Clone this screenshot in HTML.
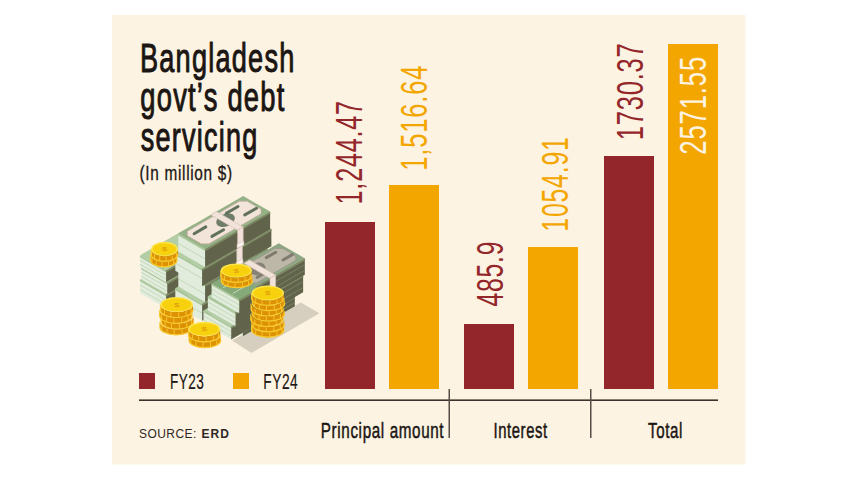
<!DOCTYPE html>
<html><head><meta charset="utf-8">
<style>
html,body{margin:0;padding:0;background:#fff;width:857px;height:482px;overflow:hidden}
svg{display:block}
text{font-family:"Liberation Sans",sans-serif}
</style></head>
<body>
<svg width="857" height="482" viewBox="0 0 857 482">
<rect x="112" y="15" width="633.5" height="449.5" fill="#FDF3E2"/>
<g>
<rect x="325" y="222" width="50" height="167" fill="#93262A"/>
<rect x="389" y="185" width="50" height="204" fill="#F4A600"/>
<rect x="464" y="324" width="50" height="65" fill="#93262A"/>
<rect x="528" y="247" width="50" height="142" fill="#F4A600"/>
<rect x="604" y="156" width="50" height="233" fill="#93262A"/>
<rect x="668" y="44" width="50" height="345" fill="#F4A600"/>
</g>
<rect x="139" y="399.4" width="579" height="1.6" fill="#3b322b"/>
<rect x="448.5" y="389" width="1.5" height="49" fill="#564d46"/>
<rect x="590" y="389" width="1.5" height="49" fill="#564d46"/>
<rect x="139" y="373" width="16" height="16" fill="#93262A"/>
<rect x="233" y="373" width="16" height="16" fill="#F4A600"/>
<g fill="#2e2825" font-size="12">
<text x="139" y="437.5" letter-spacing="0.45">SOURCE:</text>
<text x="201.5" y="437.5" font-weight="bold" letter-spacing="1.1">ERD</text>
</g>
<g id="illus">
<polygon points="232.0,340.5 251.5,352.9 319.4,313.2 300.8,302.6" fill="#d6cfbf" />
<polygon points="140.1,279.3 166.1,294.3 166.1,308.3 140.1,293.3" fill="#e2ecdd" />
<line x1="140.1" y1="285.0" x2="166.1" y2="300.0" stroke="#bcd4b0" stroke-width="0.8"/>
<line x1="140.1" y1="289.6" x2="166.1" y2="304.6" stroke="#bcd4b0" stroke-width="0.8"/>
<line x1="140.1" y1="280.3" x2="166.1" y2="295.3" stroke="#a7c497" stroke-width="1.6"/>
<polygon points="166.1,294.3 219.8,263.3 219.8,277.3 166.1,308.3" fill="#61644b" />
<line x1="166.1" y1="295.5" x2="219.8" y2="264.5" stroke="#7f8c66" stroke-width="1.8"/>
<polygon points="140.1,279.3 193.8,248.3 219.8,263.3 166.1,294.3" fill="#b3cda5" />
<polygon points="141.3,267.3 167.3,282.3 167.3,294.3 141.3,279.3" fill="#e2ecdd" />
<line x1="141.3" y1="272.3" x2="167.3" y2="287.3" stroke="#bcd4b0" stroke-width="0.8"/>
<line x1="141.3" y1="276.3" x2="167.3" y2="291.3" stroke="#bcd4b0" stroke-width="0.8"/>
<line x1="141.3" y1="268.3" x2="167.3" y2="283.3" stroke="#a7c497" stroke-width="1.6"/>
<polygon points="167.3,282.3 221.0,251.3 221.0,263.3 167.3,294.3" fill="#61644b" />
<line x1="167.3" y1="283.5" x2="221.0" y2="252.5" stroke="#7f8c66" stroke-width="1.8"/>
<polygon points="141.3,267.3 195.0,236.3 221.0,251.3 167.3,282.3" fill="#b3cda5" />
<polygon points="140.1,255.3 166.1,270.3 166.1,282.3 140.1,267.3" fill="#e2ecdd" />
<line x1="140.1" y1="260.3" x2="166.1" y2="275.3" stroke="#bcd4b0" stroke-width="0.8"/>
<line x1="140.1" y1="264.3" x2="166.1" y2="279.3" stroke="#bcd4b0" stroke-width="0.8"/>
<line x1="140.1" y1="256.3" x2="166.1" y2="271.3" stroke="#a7c497" stroke-width="1.6"/>
<polygon points="166.1,270.3 219.8,239.3 219.8,251.3 166.1,282.3" fill="#61644b" />
<line x1="166.1" y1="271.5" x2="219.8" y2="240.5" stroke="#7f8c66" stroke-width="1.8"/>
<polygon points="140.1,255.3 193.8,224.3 219.8,239.3 166.1,270.3" fill="#b3cda5" />
<polygon points="175.3,288.2 202.1,303.8 202.1,320.8 175.3,305.2" fill="#e2ecdd" />
<line x1="175.3" y1="297.8" x2="202.1" y2="313.2" stroke="#bcd4b0" stroke-width="0.8"/>
<line x1="175.3" y1="289.2" x2="202.1" y2="304.8" stroke="#a7c497" stroke-width="1.6"/>
<polygon points="202.1,303.8 268.0,265.8 268.0,282.8 202.1,320.8" fill="#61644b" />
<line x1="202.1" y1="304.9" x2="268.0" y2="266.9" stroke="#7f8c66" stroke-width="1.8"/>
<polygon points="175.3,288.2 241.1,250.2 268.0,265.8 202.1,303.8" fill="#b3cda5" />
<polygon points="178.3,269.0 205.1,284.5 205.1,302.0 178.3,286.5" fill="#e2ecdd" />
<line x1="178.3" y1="278.8" x2="205.1" y2="294.2" stroke="#bcd4b0" stroke-width="0.8"/>
<line x1="178.3" y1="270.0" x2="205.1" y2="285.5" stroke="#a7c497" stroke-width="1.6"/>
<polygon points="205.1,284.5 267.5,248.5 267.5,266.0 205.1,302.0" fill="#61644b" />
<line x1="205.1" y1="285.7" x2="267.5" y2="249.7" stroke="#7f8c66" stroke-width="1.8"/>
<polygon points="178.3,269.0 240.7,233.0 267.5,248.5 205.1,284.5" fill="#b3cda5" />
<polygon points="210.7,250.3 216.4,247.0 243.2,262.5 237.6,265.8" fill="#f1e2da" stroke="#d8c0b5" stroke-width="0.6"/>
<polygon points="237.6,265.8 243.2,262.5 243.2,280.0 237.6,283.3" fill="#f1e2da" stroke="#d8c0b5" stroke-width="0.6"/>
<polygon points="237.1,279.3 243.7,276.0 243.7,280.0 237.1,283.3" fill="#faf4f0" stroke="#d8c0b5" stroke-width="0.6"/>
<polygon points="175.3,253.2 202.1,268.8 202.1,286.2 175.3,270.8" fill="#e2ecdd" />
<line x1="175.3" y1="263.0" x2="202.1" y2="278.5" stroke="#bcd4b0" stroke-width="0.8"/>
<line x1="175.3" y1="254.2" x2="202.1" y2="269.8" stroke="#a7c497" stroke-width="1.6"/>
<polygon points="202.1,268.8 271.4,228.8 271.4,246.2 202.1,286.2" fill="#61644b" />
<line x1="202.1" y1="269.9" x2="271.4" y2="229.9" stroke="#7f8c66" stroke-width="1.8"/>
<polygon points="175.3,253.2 244.6,213.2 271.4,228.8 202.1,268.8" fill="#b3cda5" />
<polygon points="209.9,233.2 215.6,230.0 242.4,245.5 236.8,248.8" fill="#f1e2da" stroke="#d8c0b5" stroke-width="0.6"/>
<polygon points="236.8,248.8 242.4,245.5 242.4,263.0 236.8,266.2" fill="#f1e2da" stroke="#d8c0b5" stroke-width="0.6"/>
<polygon points="236.3,262.2 242.9,259.0 242.9,263.0 236.3,266.2" fill="#faf4f0" stroke="#d8c0b5" stroke-width="0.6"/>
<polygon points="178.3,233.5 205.1,249.0 205.1,267.0 178.3,251.5" fill="#e2ecdd" />
<line x1="178.3" y1="243.5" x2="205.1" y2="259.0" stroke="#bcd4b0" stroke-width="0.8"/>
<line x1="178.3" y1="234.5" x2="205.1" y2="250.0" stroke="#a7c497" stroke-width="1.6"/>
<polygon points="205.1,249.0 270.1,211.5 270.1,229.5 205.1,267.0" fill="#61644b" />
<line x1="205.1" y1="250.2" x2="270.1" y2="212.7" stroke="#7f8c66" stroke-width="1.8"/>
<polygon points="178.3,233.5 243.2,196.0 270.1,211.5 205.1,249.0" fill="#94b286" />
<polygon points="187.4,231.2 239.4,201.2 247.1,201.2 261.0,209.2 261.0,213.8 209.0,243.8 201.2,243.8 187.4,235.8" fill="#f3e4da" stroke="#c9b0a4" stroke-width="0.8"/>
<line x1="194.1" y1="233.7" x2="205.8" y2="226.9" stroke="#61715b" stroke-width="3.0" stroke-linecap="round"/>
<line x1="211.9" y1="236.4" x2="223.6" y2="229.7" stroke="#61715b" stroke-width="3.0" stroke-linecap="round"/>
<line x1="226.3" y1="213.2" x2="238.0" y2="206.5" stroke="#61715b" stroke-width="3.0" stroke-linecap="round"/>
<line x1="244.8" y1="214.9" x2="256.5" y2="208.2" stroke="#61715b" stroke-width="3.0" stroke-linecap="round"/>
<ellipse cx="225.5" cy="220.2" rx="9.8" ry="6.2" transform="rotate(-22 225.5 220.2)" fill="#61715b" opacity="0.9"/>
<polygon points="210.8,214.8 216.4,211.5 243.2,227.0 237.6,230.2" fill="#f1e2da" stroke="#d8c0b5" stroke-width="0.6"/>
<polygon points="237.6,230.2 243.2,227.0 243.2,245.0 237.6,248.2" fill="#f1e2da" stroke="#d8c0b5" stroke-width="0.6"/>
<polygon points="237.1,244.2 243.8,241.0 243.8,245.0 237.1,248.2" fill="#faf4f0" stroke="#d8c0b5" stroke-width="0.6"/>
<polygon points="216.9,307.3 242.8,322.3 242.8,336.3 216.9,321.3" fill="#e2ecdd" />
<line x1="216.9" y1="315.3" x2="242.8" y2="330.3" stroke="#bcd4b0" stroke-width="0.8"/>
<line x1="216.9" y1="308.3" x2="242.8" y2="323.3" stroke="#a7c497" stroke-width="1.6"/>
<polygon points="242.8,322.3 294.8,292.3 294.8,306.3 242.8,336.3" fill="#61644b" />
<line x1="242.8" y1="323.5" x2="294.8" y2="293.5" stroke="#7f8c66" stroke-width="1.8"/>
<line x1="242.8" y1="328.0" x2="294.8" y2="298.0" stroke="#7a8564" stroke-width="0.9"/>
<line x1="242.8" y1="332.6" x2="294.8" y2="302.6" stroke="#7a8564" stroke-width="0.9"/>
<polygon points="216.9,307.3 268.8,277.3 294.8,292.3 242.8,322.3" fill="#b3cda5" />
<polygon points="225.2,289.8 251.1,304.8 251.1,322.3 225.2,307.3" fill="#e2ecdd" />
<line x1="225.2" y1="299.6" x2="251.1" y2="314.6" stroke="#bcd4b0" stroke-width="0.8"/>
<line x1="225.2" y1="290.8" x2="251.1" y2="305.8" stroke="#a7c497" stroke-width="1.6"/>
<polygon points="251.1,304.8 303.1,274.8 303.1,292.3 251.1,322.3" fill="#61644b" />
<line x1="251.1" y1="306.0" x2="303.1" y2="276.0" stroke="#7f8c66" stroke-width="1.8"/>
<line x1="251.1" y1="311.6" x2="303.1" y2="281.6" stroke="#7a8564" stroke-width="0.9"/>
<line x1="251.1" y1="317.5" x2="303.1" y2="287.5" stroke="#7a8564" stroke-width="0.9"/>
<polygon points="225.2,289.8 277.1,259.8 303.1,274.8 251.1,304.8" fill="#b3cda5" />
<polygon points="243.9,279.0 249.5,275.8 275.5,290.8 269.8,294.0" fill="#f1e2da" stroke="#d8c0b5" stroke-width="0.6"/>
<polygon points="269.8,294.0 275.5,290.8 275.5,308.2 269.8,311.5" fill="#f1e2da" stroke="#d8c0b5" stroke-width="0.6"/>
<polygon points="269.3,307.5 276.0,304.2 276.0,308.2 269.3,311.5" fill="#faf4f0" stroke="#d8c0b5" stroke-width="0.6"/>
<polygon points="226.9,273.2 252.8,288.2 252.8,304.8 226.9,289.8" fill="#e2ecdd" />
<line x1="226.9" y1="282.5" x2="252.8" y2="297.5" stroke="#bcd4b0" stroke-width="0.8"/>
<line x1="226.9" y1="274.2" x2="252.8" y2="289.2" stroke="#a7c497" stroke-width="1.6"/>
<polygon points="252.8,288.2 304.8,258.2 304.8,274.8 252.8,304.8" fill="#61644b" />
<line x1="252.8" y1="289.4" x2="304.8" y2="259.4" stroke="#7f8c66" stroke-width="1.8"/>
<line x1="252.8" y1="294.7" x2="304.8" y2="264.7" stroke="#7a8564" stroke-width="0.9"/>
<line x1="252.8" y1="300.3" x2="304.8" y2="270.3" stroke="#7a8564" stroke-width="0.9"/>
<polygon points="226.9,273.2 278.8,243.2 304.8,258.2 252.8,288.2" fill="#8fa785" />
<polygon points="236.0,270.9 274.9,248.4 282.7,248.4 295.7,255.9 295.7,260.4 256.7,282.9 248.9,282.9 236.0,275.4" fill="#bdb7a7" stroke="#9a9588" stroke-width="0.8"/>
<line x1="240.9" y1="274.1" x2="250.2" y2="268.7" stroke="#7f7b6f" stroke-width="3.0" stroke-linecap="round"/>
<line x1="257.0" y1="277.4" x2="266.3" y2="272.0" stroke="#7f7b6f" stroke-width="3.0" stroke-linecap="round"/>
<line x1="266.3" y1="257.6" x2="275.7" y2="252.2" stroke="#7f7b6f" stroke-width="3.0" stroke-linecap="round"/>
<line x1="283.0" y1="260.0" x2="292.3" y2="254.6" stroke="#7f7b6f" stroke-width="3.0" stroke-linecap="round"/>
<ellipse cx="257.8" cy="268.8" rx="7.8" ry="6.0" transform="rotate(-22 257.8 268.8)" fill="#7f7b6f" opacity="0.9"/>
<polygon points="244.0,263.3 249.6,260.1 275.6,275.1 270.0,278.3" fill="#f1e2da" stroke="#d8c0b5" stroke-width="0.6"/>
<polygon points="270.0,278.3 275.6,275.1 275.6,291.7 270.0,294.9" fill="#f1e2da" stroke="#d8c0b5" stroke-width="0.6"/>
<polygon points="269.5,290.9 276.1,287.7 276.1,291.7 269.5,294.9" fill="#faf4f0" stroke="#d8c0b5" stroke-width="0.6"/>
<polygon points="203.5,310.4 231.2,326.4 231.2,339.4 203.5,323.4" fill="#e2ecdd" />
<line x1="203.5" y1="315.7" x2="231.2" y2="331.7" stroke="#bcd4b0" stroke-width="0.8"/>
<line x1="203.5" y1="320.1" x2="231.2" y2="336.1" stroke="#bcd4b0" stroke-width="0.8"/>
<line x1="203.5" y1="311.4" x2="231.2" y2="327.4" stroke="#a7c497" stroke-width="1.6"/>
<polygon points="231.2,326.4 260.7,309.4 260.7,322.4 231.2,339.4" fill="#61644b" />
<line x1="231.2" y1="327.6" x2="260.7" y2="310.6" stroke="#7f8c66" stroke-width="1.8"/>
<polygon points="203.5,310.4 232.9,293.4 260.7,309.4 231.2,326.4" fill="#b3cda5" />
<polygon points="207.9,296.3 235.6,312.3 235.6,326.3 207.9,310.3" fill="#e2ecdd" />
<line x1="207.9" y1="302.0" x2="235.6" y2="318.0" stroke="#bcd4b0" stroke-width="0.8"/>
<line x1="207.9" y1="306.6" x2="235.6" y2="322.6" stroke="#bcd4b0" stroke-width="0.8"/>
<line x1="207.9" y1="297.3" x2="235.6" y2="313.3" stroke="#a7c497" stroke-width="1.6"/>
<polygon points="235.6,312.3 259.9,298.3 259.9,312.3 235.6,326.3" fill="#61644b" />
<line x1="235.6" y1="313.5" x2="259.9" y2="299.5" stroke="#7f8c66" stroke-width="1.8"/>
<polygon points="207.9,296.3 232.1,282.3 259.9,298.3 235.6,312.3" fill="#b3cda5" />
<polygon points="211.6,283.3 239.3,299.3 239.3,313.3 211.6,297.3" fill="#e2ecdd" />
<line x1="211.6" y1="289.0" x2="239.3" y2="305.0" stroke="#bcd4b0" stroke-width="0.8"/>
<line x1="211.6" y1="293.6" x2="239.3" y2="309.6" stroke="#bcd4b0" stroke-width="0.8"/>
<line x1="211.6" y1="284.3" x2="239.3" y2="300.3" stroke="#a7c497" stroke-width="1.6"/>
<polygon points="239.3,299.3 258.4,288.3 258.4,302.3 239.3,313.3" fill="#61644b" />
<line x1="239.3" y1="300.5" x2="258.4" y2="289.5" stroke="#7f8c66" stroke-width="1.8"/>
<polygon points="211.6,283.3 230.7,272.3 258.4,288.3 239.3,299.3" fill="#86a97a" />
<line x1="223.0" y1="287.9" x2="239.5" y2="278.4" stroke="#c3d7b8" stroke-width="1.0"/>
<line x1="232.7" y1="293.5" x2="249.2" y2="284.0" stroke="#c3d7b8" stroke-width="1.0"/>
<path d="M150.3,254.5 L150.3,260.0 A13.4,7.2 0 0 0 177.1,260.0 L177.1,254.5 A13.4,7.2 0 0 1 150.3,254.5 Z" fill="#dd9206"/>
<path d="M150.3,259.7 A13.4,7.2 0 0 0 177.1,259.7" fill="none" stroke="#f9cb2c" stroke-width="1.2"/>
<line x1="151.8" y1="258.3" x2="151.8" y2="263.0" stroke="#f9cb2c" stroke-width="0.9"/>
<line x1="156.1" y1="260.9" x2="156.1" y2="265.6" stroke="#f9cb2c" stroke-width="0.9"/>
<line x1="162.1" y1="262.1" x2="162.1" y2="266.8" stroke="#f9cb2c" stroke-width="0.9"/>
<line x1="168.5" y1="261.7" x2="168.5" y2="266.4" stroke="#f9cb2c" stroke-width="0.9"/>
<line x1="173.7" y1="259.8" x2="173.7" y2="264.5" stroke="#f9cb2c" stroke-width="0.9"/>
<line x1="176.7" y1="256.7" x2="176.7" y2="261.4" stroke="#f9cb2c" stroke-width="0.9"/>
<path d="M150.3,254.5 L150.3,260.0" stroke="#f9cb2c" stroke-width="1"/>
<path d="M151.1,249.0 L151.1,254.5 A13.4,7.2 0 0 0 177.9,254.5 L177.9,249.0 A13.4,7.2 0 0 1 151.1,249.0 Z" fill="#dd9206"/>
<path d="M151.1,254.2 A13.4,7.2 0 0 0 177.9,254.2" fill="none" stroke="#f9cb2c" stroke-width="1.2"/>
<line x1="151.5" y1="251.2" x2="151.5" y2="255.9" stroke="#f9cb2c" stroke-width="0.9"/>
<line x1="154.5" y1="254.3" x2="154.5" y2="259.0" stroke="#f9cb2c" stroke-width="0.9"/>
<line x1="159.7" y1="256.2" x2="159.7" y2="260.9" stroke="#f9cb2c" stroke-width="0.9"/>
<line x1="166.1" y1="256.6" x2="166.1" y2="261.3" stroke="#f9cb2c" stroke-width="0.9"/>
<line x1="172.1" y1="255.4" x2="172.1" y2="260.1" stroke="#f9cb2c" stroke-width="0.9"/>
<line x1="176.4" y1="252.8" x2="176.4" y2="257.5" stroke="#f9cb2c" stroke-width="0.9"/>
<path d="M151.1,249.0 L151.1,254.5" stroke="#f9cb2c" stroke-width="1"/>
<ellipse cx="164.5" cy="249.0" rx="13.4" ry="7.2" fill="#fde449"/>
<ellipse cx="164.5" cy="249.3" rx="11.8" ry="6.1" fill="#f8d10e"/>
<text x="0" y="0" font-size="9" font-weight="bold" fill="#e0a00a" text-anchor="middle" transform="translate(164.5,251.2) scale(1.1,0.6)">$</text>
<path d="M221.3,275.8 L221.3,281.0 A15.6,7.0 0 0 0 252.5,281.0 L252.5,275.8 A15.6,7.0 0 0 1 221.3,275.8 Z" fill="#dd9206"/>
<path d="M221.3,280.7 A15.6,7.0 0 0 0 252.5,280.7" fill="none" stroke="#f9cb2c" stroke-width="1.2"/>
<line x1="223.1" y1="279.5" x2="223.1" y2="284.0" stroke="#f9cb2c" stroke-width="0.9"/>
<line x1="228.0" y1="282.0" x2="228.0" y2="286.5" stroke="#f9cb2c" stroke-width="0.9"/>
<line x1="235.0" y1="283.2" x2="235.0" y2="287.6" stroke="#f9cb2c" stroke-width="0.9"/>
<line x1="242.4" y1="282.8" x2="242.4" y2="287.2" stroke="#f9cb2c" stroke-width="0.9"/>
<line x1="248.6" y1="280.9" x2="248.6" y2="285.3" stroke="#f9cb2c" stroke-width="0.9"/>
<line x1="252.0" y1="277.9" x2="252.0" y2="282.4" stroke="#f9cb2c" stroke-width="0.9"/>
<path d="M221.3,275.8 L221.3,281.0" stroke="#f9cb2c" stroke-width="1"/>
<path d="M220.7,270.5 L220.7,275.8 A15.6,7.0 0 0 0 251.9,275.8 L251.9,270.5 A15.6,7.0 0 0 1 220.7,270.5 Z" fill="#dd9206"/>
<path d="M220.7,275.4 A15.6,7.0 0 0 0 251.9,275.4" fill="none" stroke="#f9cb2c" stroke-width="1.2"/>
<line x1="221.2" y1="272.7" x2="221.2" y2="277.1" stroke="#f9cb2c" stroke-width="0.9"/>
<line x1="224.6" y1="275.6" x2="224.6" y2="280.1" stroke="#f9cb2c" stroke-width="0.9"/>
<line x1="230.8" y1="277.5" x2="230.8" y2="282.0" stroke="#f9cb2c" stroke-width="0.9"/>
<line x1="238.2" y1="277.9" x2="238.2" y2="282.4" stroke="#f9cb2c" stroke-width="0.9"/>
<line x1="245.2" y1="276.8" x2="245.2" y2="281.2" stroke="#f9cb2c" stroke-width="0.9"/>
<line x1="250.1" y1="274.3" x2="250.1" y2="278.7" stroke="#f9cb2c" stroke-width="0.9"/>
<path d="M220.7,270.5 L220.7,275.8" stroke="#f9cb2c" stroke-width="1"/>
<ellipse cx="236.3" cy="270.5" rx="15.6" ry="7.0" fill="#fde449"/>
<ellipse cx="236.3" cy="270.8" rx="14.0" ry="5.9" fill="#f8d10e"/>
<text x="0" y="0" font-size="9" font-weight="bold" fill="#e0a00a" text-anchor="middle" transform="translate(236.3,272.7) scale(1.1,0.6)">$</text>
<path d="M251.6,324.7 L251.6,330.0 A16.2,7.4 0 0 0 284.0,330.0 L284.0,324.7 A16.2,7.4 0 0 1 251.6,324.7 Z" fill="#dd9206"/>
<path d="M251.6,329.7 A16.2,7.4 0 0 0 284.0,329.7" fill="none" stroke="#f9cb2c" stroke-width="1.2"/>
<line x1="252.1" y1="327.0" x2="252.1" y2="331.5" stroke="#f9cb2c" stroke-width="0.9"/>
<line x1="255.7" y1="330.1" x2="255.7" y2="334.6" stroke="#f9cb2c" stroke-width="0.9"/>
<line x1="262.1" y1="332.1" x2="262.1" y2="336.6" stroke="#f9cb2c" stroke-width="0.9"/>
<line x1="269.8" y1="332.6" x2="269.8" y2="337.0" stroke="#f9cb2c" stroke-width="0.9"/>
<line x1="277.0" y1="331.3" x2="277.0" y2="335.8" stroke="#f9cb2c" stroke-width="0.9"/>
<line x1="282.1" y1="328.7" x2="282.1" y2="333.1" stroke="#f9cb2c" stroke-width="0.9"/>
<path d="M251.6,324.7 L251.6,330.0" stroke="#f9cb2c" stroke-width="1"/>
<path d="M251.9,319.4 L251.9,324.7 A16.2,7.4 0 0 0 284.3,324.7 L284.3,319.4 A16.2,7.4 0 0 1 251.9,319.4 Z" fill="#dd9206"/>
<path d="M251.9,324.4 A16.2,7.4 0 0 0 284.3,324.4" fill="none" stroke="#f9cb2c" stroke-width="1.2"/>
<line x1="253.8" y1="323.4" x2="253.8" y2="327.9" stroke="#f9cb2c" stroke-width="0.9"/>
<line x1="258.9" y1="326.0" x2="258.9" y2="330.5" stroke="#f9cb2c" stroke-width="0.9"/>
<line x1="266.1" y1="327.3" x2="266.1" y2="331.8" stroke="#f9cb2c" stroke-width="0.9"/>
<line x1="273.8" y1="326.8" x2="273.8" y2="331.3" stroke="#f9cb2c" stroke-width="0.9"/>
<line x1="280.2" y1="324.8" x2="280.2" y2="329.3" stroke="#f9cb2c" stroke-width="0.9"/>
<line x1="283.8" y1="321.7" x2="283.8" y2="326.2" stroke="#f9cb2c" stroke-width="0.9"/>
<path d="M251.9,319.4 L251.9,324.7" stroke="#f9cb2c" stroke-width="1"/>
<path d="M250.8,314.1 L250.8,319.4 A16.2,7.4 0 0 0 283.2,319.4 L283.2,314.1 A16.2,7.4 0 0 1 250.8,314.1 Z" fill="#dd9206"/>
<path d="M250.8,319.1 A16.2,7.4 0 0 0 283.2,319.1" fill="none" stroke="#f9cb2c" stroke-width="1.2"/>
<line x1="251.3" y1="316.4" x2="251.3" y2="320.9" stroke="#f9cb2c" stroke-width="0.9"/>
<line x1="254.9" y1="319.5" x2="254.9" y2="324.0" stroke="#f9cb2c" stroke-width="0.9"/>
<line x1="261.3" y1="321.6" x2="261.3" y2="326.0" stroke="#f9cb2c" stroke-width="0.9"/>
<line x1="269.0" y1="322.0" x2="269.0" y2="326.5" stroke="#f9cb2c" stroke-width="0.9"/>
<line x1="276.2" y1="320.7" x2="276.2" y2="325.2" stroke="#f9cb2c" stroke-width="0.9"/>
<line x1="281.3" y1="318.1" x2="281.3" y2="322.6" stroke="#f9cb2c" stroke-width="0.9"/>
<path d="M250.8,314.1 L250.8,319.4" stroke="#f9cb2c" stroke-width="1"/>
<path d="M252.1,308.9 L252.1,314.1 A16.2,7.4 0 0 0 284.5,314.1 L284.5,308.9 A16.2,7.4 0 0 1 252.1,308.9 Z" fill="#dd9206"/>
<path d="M252.1,313.8 A16.2,7.4 0 0 0 284.5,313.8" fill="none" stroke="#f9cb2c" stroke-width="1.2"/>
<line x1="254.0" y1="312.8" x2="254.0" y2="317.3" stroke="#f9cb2c" stroke-width="0.9"/>
<line x1="259.1" y1="315.4" x2="259.1" y2="319.9" stroke="#f9cb2c" stroke-width="0.9"/>
<line x1="266.3" y1="316.7" x2="266.3" y2="321.2" stroke="#f9cb2c" stroke-width="0.9"/>
<line x1="274.0" y1="316.3" x2="274.0" y2="320.8" stroke="#f9cb2c" stroke-width="0.9"/>
<line x1="280.4" y1="314.3" x2="280.4" y2="318.7" stroke="#f9cb2c" stroke-width="0.9"/>
<line x1="284.0" y1="311.1" x2="284.0" y2="315.6" stroke="#f9cb2c" stroke-width="0.9"/>
<path d="M252.1,308.9 L252.1,314.1" stroke="#f9cb2c" stroke-width="1"/>
<path d="M251.0,303.6 L251.0,308.9 A16.2,7.4 0 0 0 283.4,308.9 L283.4,303.6 A16.2,7.4 0 0 1 251.0,303.6 Z" fill="#dd9206"/>
<path d="M251.0,308.6 A16.2,7.4 0 0 0 283.4,308.6" fill="none" stroke="#f9cb2c" stroke-width="1.2"/>
<line x1="251.5" y1="305.8" x2="251.5" y2="310.3" stroke="#f9cb2c" stroke-width="0.9"/>
<line x1="255.1" y1="309.0" x2="255.1" y2="313.5" stroke="#f9cb2c" stroke-width="0.9"/>
<line x1="261.5" y1="311.0" x2="261.5" y2="315.5" stroke="#f9cb2c" stroke-width="0.9"/>
<line x1="269.2" y1="311.4" x2="269.2" y2="315.9" stroke="#f9cb2c" stroke-width="0.9"/>
<line x1="276.4" y1="310.2" x2="276.4" y2="314.6" stroke="#f9cb2c" stroke-width="0.9"/>
<line x1="281.5" y1="307.5" x2="281.5" y2="312.0" stroke="#f9cb2c" stroke-width="0.9"/>
<path d="M251.0,303.6 L251.0,308.9" stroke="#f9cb2c" stroke-width="1"/>
<path d="M252.4,298.3 L252.4,303.6 A16.2,7.4 0 0 0 284.8,303.6 L284.8,298.3 A16.2,7.4 0 0 1 252.4,298.3 Z" fill="#dd9206"/>
<path d="M252.4,303.3 A16.2,7.4 0 0 0 284.8,303.3" fill="none" stroke="#f9cb2c" stroke-width="1.2"/>
<line x1="254.3" y1="302.2" x2="254.3" y2="306.7" stroke="#f9cb2c" stroke-width="0.9"/>
<line x1="259.4" y1="304.9" x2="259.4" y2="309.4" stroke="#f9cb2c" stroke-width="0.9"/>
<line x1="266.6" y1="306.1" x2="266.6" y2="310.6" stroke="#f9cb2c" stroke-width="0.9"/>
<line x1="274.3" y1="305.7" x2="274.3" y2="310.2" stroke="#f9cb2c" stroke-width="0.9"/>
<line x1="280.7" y1="303.7" x2="280.7" y2="308.2" stroke="#f9cb2c" stroke-width="0.9"/>
<line x1="284.3" y1="300.6" x2="284.3" y2="305.0" stroke="#f9cb2c" stroke-width="0.9"/>
<path d="M252.4,298.3 L252.4,303.6" stroke="#f9cb2c" stroke-width="1"/>
<path d="M251.6,293.0 L251.6,298.3 A16.2,7.4 0 0 0 284.0,298.3 L284.0,293.0 A16.2,7.4 0 0 1 251.6,293.0 Z" fill="#dd9206"/>
<path d="M251.6,298.0 A16.2,7.4 0 0 0 284.0,298.0" fill="none" stroke="#f9cb2c" stroke-width="1.2"/>
<line x1="252.1" y1="295.3" x2="252.1" y2="299.8" stroke="#f9cb2c" stroke-width="0.9"/>
<line x1="255.7" y1="298.4" x2="255.7" y2="302.9" stroke="#f9cb2c" stroke-width="0.9"/>
<line x1="262.1" y1="300.4" x2="262.1" y2="304.9" stroke="#f9cb2c" stroke-width="0.9"/>
<line x1="269.8" y1="300.8" x2="269.8" y2="305.3" stroke="#f9cb2c" stroke-width="0.9"/>
<line x1="277.0" y1="299.6" x2="277.0" y2="304.1" stroke="#f9cb2c" stroke-width="0.9"/>
<line x1="282.1" y1="296.9" x2="282.1" y2="301.4" stroke="#f9cb2c" stroke-width="0.9"/>
<path d="M251.6,293.0 L251.6,298.3" stroke="#f9cb2c" stroke-width="1"/>
<ellipse cx="267.8" cy="293.0" rx="16.2" ry="7.4" fill="#fde449"/>
<ellipse cx="267.8" cy="293.3" rx="14.6" ry="6.3" fill="#f8d10e"/>
<text x="0" y="0" font-size="9" font-weight="bold" fill="#e0a00a" text-anchor="middle" transform="translate(267.8,295.2) scale(1.1,0.6)">$</text>
<path d="M159.9,321.8 L159.9,327.5 A16.3,7.6 0 0 0 192.5,327.5 L192.5,321.8 A16.3,7.6 0 0 1 159.9,321.8 Z" fill="#dd9206"/>
<path d="M159.9,327.2 A16.3,7.6 0 0 0 192.5,327.2" fill="none" stroke="#f9cb2c" stroke-width="1.2"/>
<line x1="161.8" y1="325.8" x2="161.8" y2="330.7" stroke="#f9cb2c" stroke-width="0.9"/>
<line x1="166.9" y1="328.5" x2="166.9" y2="333.5" stroke="#f9cb2c" stroke-width="0.9"/>
<line x1="174.2" y1="329.8" x2="174.2" y2="334.7" stroke="#f9cb2c" stroke-width="0.9"/>
<line x1="182.0" y1="329.4" x2="182.0" y2="334.3" stroke="#f9cb2c" stroke-width="0.9"/>
<line x1="188.4" y1="327.3" x2="188.4" y2="332.2" stroke="#f9cb2c" stroke-width="0.9"/>
<line x1="192.0" y1="324.1" x2="192.0" y2="329.0" stroke="#f9cb2c" stroke-width="0.9"/>
<path d="M159.9,321.8 L159.9,327.5" stroke="#f9cb2c" stroke-width="1"/>
<path d="M161.0,316.0 L161.0,321.8 A16.3,7.6 0 0 0 193.6,321.8 L193.6,316.0 A16.3,7.6 0 0 1 161.0,316.0 Z" fill="#dd9206"/>
<path d="M161.0,321.4 A16.3,7.6 0 0 0 193.6,321.4" fill="none" stroke="#f9cb2c" stroke-width="1.2"/>
<line x1="161.5" y1="318.3" x2="161.5" y2="323.3" stroke="#f9cb2c" stroke-width="0.9"/>
<line x1="165.1" y1="321.5" x2="165.1" y2="326.5" stroke="#f9cb2c" stroke-width="0.9"/>
<line x1="171.5" y1="323.6" x2="171.5" y2="328.6" stroke="#f9cb2c" stroke-width="0.9"/>
<line x1="179.3" y1="324.0" x2="179.3" y2="329.0" stroke="#f9cb2c" stroke-width="0.9"/>
<line x1="186.6" y1="322.8" x2="186.6" y2="327.7" stroke="#f9cb2c" stroke-width="0.9"/>
<line x1="191.7" y1="320.0" x2="191.7" y2="325.0" stroke="#f9cb2c" stroke-width="0.9"/>
<path d="M161.0,316.0 L161.0,321.8" stroke="#f9cb2c" stroke-width="1"/>
<path d="M159.6,310.2 L159.6,316.0 A16.3,7.6 0 0 0 192.2,316.0 L192.2,310.2 A16.3,7.6 0 0 1 159.6,310.2 Z" fill="#dd9206"/>
<path d="M159.6,315.7 A16.3,7.6 0 0 0 192.2,315.7" fill="none" stroke="#f9cb2c" stroke-width="1.2"/>
<line x1="161.5" y1="314.3" x2="161.5" y2="319.2" stroke="#f9cb2c" stroke-width="0.9"/>
<line x1="166.6" y1="317.0" x2="166.6" y2="322.0" stroke="#f9cb2c" stroke-width="0.9"/>
<line x1="173.9" y1="318.3" x2="173.9" y2="323.2" stroke="#f9cb2c" stroke-width="0.9"/>
<line x1="181.7" y1="317.9" x2="181.7" y2="322.8" stroke="#f9cb2c" stroke-width="0.9"/>
<line x1="188.1" y1="315.8" x2="188.1" y2="320.7" stroke="#f9cb2c" stroke-width="0.9"/>
<line x1="191.7" y1="312.6" x2="191.7" y2="317.5" stroke="#f9cb2c" stroke-width="0.9"/>
<path d="M159.6,310.2 L159.6,316.0" stroke="#f9cb2c" stroke-width="1"/>
<path d="M160.4,304.5 L160.4,310.2 A16.3,7.6 0 0 0 193.0,310.2 L193.0,304.5 A16.3,7.6 0 0 1 160.4,304.5 Z" fill="#dd9206"/>
<path d="M160.4,309.9 A16.3,7.6 0 0 0 193.0,309.9" fill="none" stroke="#f9cb2c" stroke-width="1.2"/>
<line x1="160.9" y1="306.8" x2="160.9" y2="311.8" stroke="#f9cb2c" stroke-width="0.9"/>
<line x1="164.5" y1="310.0" x2="164.5" y2="315.0" stroke="#f9cb2c" stroke-width="0.9"/>
<line x1="170.9" y1="312.1" x2="170.9" y2="317.1" stroke="#f9cb2c" stroke-width="0.9"/>
<line x1="178.7" y1="312.5" x2="178.7" y2="317.5" stroke="#f9cb2c" stroke-width="0.9"/>
<line x1="186.0" y1="311.3" x2="186.0" y2="316.2" stroke="#f9cb2c" stroke-width="0.9"/>
<line x1="191.1" y1="308.5" x2="191.1" y2="313.5" stroke="#f9cb2c" stroke-width="0.9"/>
<path d="M160.4,304.5 L160.4,310.2" stroke="#f9cb2c" stroke-width="1"/>
<ellipse cx="176.7" cy="304.5" rx="16.3" ry="7.6" fill="#fde449"/>
<ellipse cx="176.7" cy="304.8" rx="14.7" ry="6.5" fill="#f8d10e"/>
<text x="0" y="0" font-size="9" font-weight="bold" fill="#e0a00a" text-anchor="middle" transform="translate(176.7,306.7) scale(1.1,0.6)">$</text>
<path d="M189.0,334.9 L189.0,340.6 A15.9,7.3 0 0 0 220.8,340.6 L220.8,334.9 A15.9,7.3 0 0 1 189.0,334.9 Z" fill="#dd9206"/>
<path d="M189.0,340.3 A15.9,7.3 0 0 0 220.8,340.3" fill="none" stroke="#f9cb2c" stroke-width="1.2"/>
<line x1="190.8" y1="338.7" x2="190.8" y2="343.7" stroke="#f9cb2c" stroke-width="0.9"/>
<line x1="195.9" y1="341.4" x2="195.9" y2="346.3" stroke="#f9cb2c" stroke-width="0.9"/>
<line x1="203.0" y1="342.6" x2="203.0" y2="347.5" stroke="#f9cb2c" stroke-width="0.9"/>
<line x1="210.5" y1="342.2" x2="210.5" y2="347.1" stroke="#f9cb2c" stroke-width="0.9"/>
<line x1="216.8" y1="340.2" x2="216.8" y2="345.1" stroke="#f9cb2c" stroke-width="0.9"/>
<line x1="220.3" y1="337.1" x2="220.3" y2="342.0" stroke="#f9cb2c" stroke-width="0.9"/>
<path d="M189.0,334.9 L189.0,340.6" stroke="#f9cb2c" stroke-width="1"/>
<path d="M188.4,329.1 L188.4,334.9 A15.9,7.3 0 0 0 220.2,334.9 L220.2,329.1 A15.9,7.3 0 0 1 188.4,329.1 Z" fill="#dd9206"/>
<path d="M188.4,334.6 A15.9,7.3 0 0 0 220.2,334.6" fill="none" stroke="#f9cb2c" stroke-width="1.2"/>
<line x1="188.9" y1="331.3" x2="188.9" y2="336.3" stroke="#f9cb2c" stroke-width="0.9"/>
<line x1="192.4" y1="334.4" x2="192.4" y2="339.4" stroke="#f9cb2c" stroke-width="0.9"/>
<line x1="198.7" y1="336.4" x2="198.7" y2="341.4" stroke="#f9cb2c" stroke-width="0.9"/>
<line x1="206.2" y1="336.8" x2="206.2" y2="341.8" stroke="#f9cb2c" stroke-width="0.9"/>
<line x1="213.3" y1="335.6" x2="213.3" y2="340.6" stroke="#f9cb2c" stroke-width="0.9"/>
<line x1="218.4" y1="333.0" x2="218.4" y2="337.9" stroke="#f9cb2c" stroke-width="0.9"/>
<path d="M188.4,329.1 L188.4,334.9" stroke="#f9cb2c" stroke-width="1"/>
<ellipse cx="204.3" cy="329.1" rx="15.9" ry="7.3" fill="#fde449"/>
<ellipse cx="204.3" cy="329.4" rx="14.3" ry="6.2" fill="#f8d10e"/>
<text x="0" y="0" font-size="9" font-weight="bold" fill="#e0a00a" text-anchor="middle" transform="translate(204.3,331.3) scale(1.1,0.6)">$</text>
</g>
<text transform="translate(139.94,72.2) scale(0.6790,1)" font-size="40" fill="#1b1613" stroke="#1b1613" stroke-width="1.0" stroke-linejoin="round" letter-spacing="1.8">Bangladesh</text>
<text transform="translate(140.32,111.0) scale(0.6829,1)" font-size="40" fill="#1b1613" stroke="#1b1613" stroke-width="1.0" stroke-linejoin="round" letter-spacing="1.8">govt’s debt</text>
<text transform="translate(140.80,150.5) scale(0.6760,1)" font-size="40" fill="#1b1613" stroke="#1b1613" stroke-width="1.0" stroke-linejoin="round" letter-spacing="1.8">servicing</text>
<text transform="translate(139.52,179.6) scale(0.7786,1)" font-size="19.7" fill="#1b1613" stroke="#1b1613" stroke-width="0.3" stroke-linejoin="round" letter-spacing="0.9">(In million $)</text>
<text transform="translate(320.80,437.8) scale(0.6983,1)" font-size="21.8" fill="#1b1613" stroke="#1b1613" stroke-width="0.5" stroke-linejoin="round" letter-spacing="0.9">Principal amount</text>
<text transform="translate(493.42,437.8) scale(0.6810,1)" font-size="21.8" fill="#1b1613" stroke="#1b1613" stroke-width="0.5" stroke-linejoin="round" letter-spacing="0.9">Interest</text>
<text transform="translate(648.10,437.7) scale(0.6918,1)" font-size="21.8" fill="#1b1613" stroke="#1b1613" stroke-width="0.5" stroke-linejoin="round" letter-spacing="0.9">Total</text>
<text transform="translate(169.97,388.7) scale(0.6308,1)" font-size="21.5" fill="#1b1613" stroke="#1b1613" stroke-width="0.2" stroke-linejoin="round" letter-spacing="0.8">FY23</text>
<text transform="translate(263.36,388.7) scale(0.6396,1)" font-size="21.5" fill="#1b1613" stroke="#1b1613" stroke-width="0.2" stroke-linejoin="round" letter-spacing="0.8">FY24</text>
<text transform="translate(362.2,204.44) rotate(-90) scale(0.6709,1)" font-size="37.5" fill="#93262A" letter-spacing="1.2">1,244.47</text>
<text transform="translate(427.1,170.76) rotate(-90) scale(0.6816,1)" font-size="37.5" fill="#F4A600" letter-spacing="1.2">1,516.64</text>
<text transform="translate(502.6,306.50) rotate(-90) scale(0.6577,1)" font-size="37.5" fill="#93262A" letter-spacing="1.2">485.9</text>
<text transform="translate(567.9,231.73) rotate(-90) scale(0.6626,1)" font-size="37.5" fill="#F4A600" letter-spacing="1.2">1054.91</text>
<text transform="translate(643.2,140.26) rotate(-90) scale(0.6791,1)" font-size="37.5" fill="#93262A" letter-spacing="1.2">1730.37</text>
<text transform="translate(706.0,154.67) rotate(-90) scale(0.6863,1)" font-size="37.5" fill="#FDF3E2" letter-spacing="1.2">2571.55</text>
</svg>
</body></html>
